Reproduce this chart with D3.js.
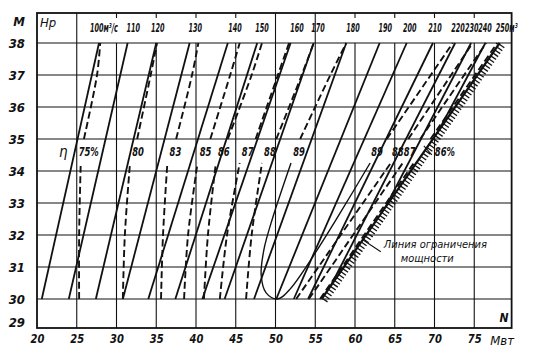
<!DOCTYPE html>
<html>
<head>
<meta charset="utf-8">
<script src="https://cdn.jsdelivr.net/npm/d3@7"></script>
<style>
  body { margin: 0; background: #fff; }
  text { font-family: "Liberation Sans Narrow", "DejaVu Sans Condensed", sans-serif; font-style: italic; fill: #111; }
</style>
</head>
<body>
<div id="chart"></div>
<script>
// Мощность N, МВт (ось X) и напор H, м (ось Y)
const powerTicks = [20, 25, 30, 35, 40, 45, 50, 55, 60, 65, 70, 75];
const headTicks = [29, 30, 31, 32, 33, 34, 35, 36, 37, 38];

// Линии расхода Q: мощность при H=30 и при H=38
const dischargeValues = [100, 110, 120, 130, 140, 150, 160, 170, 180, 190, 200, 210, 220, 230, 240, 250];
const dischargeAt30 = [20.6, 24.0, 27.4, 30.8, 34.0, 37.4, 40.8, 43.6, 47.3, 50.1, 52.3, 54.1, 56.1, 57.8, 59.2, 60.6];
const dischargeAt38 = [27.8, 31.4, 35.0, 39.2, 44.0, 47.7, 51.9, 54.8, 58.9, 63.1, 66.5, 69.8, 72.6, 74.6, 76.4, 78.6];
// где стоят подписи расходов над сеткой (МВт)
const dischargeLabelAt = [27.55, 32.1, 35.2, 39.9, 44.9, 48.3, 52.7, 55.35, 59.75, 63.8, 66.9, 70.05, 72.95, 74.7, 76.35, 78.6];

// Линия ограничения мощности
const limitLine = [[55.8, 30], [78.2, 38]];

// Линии КПД, левые ветви (нижняя и верхняя части, разрыв под подписью)
const effLeftLabels = ["75%", "80", "83", "85", "86", "87", "88", "89"];
const effLeftLower = [
  [[25.3, 30], [25.3, 32], [25.5, 34.25]],
  [[30.8, 30], [31.05, 32], [31.7, 34.25]],
  [[35.6, 30], [35.85, 32], [36.4, 34.25]],
  [[38.5, 30], [39.0, 32], [40.2, 34.25]],
  [[41.0, 30], [41.5, 32], [42.5, 34.25]],
  [[43.0, 30], [43.9, 32], [45.5, 34.25]],
  [[46.3, 30], [47.0, 32], [48.3, 34.25]],
  [[51.95, 34.25], [49.6, 32.5], [48.55, 31.55], [48.2, 30.75], [48.8, 30.2], [50.2, 30], [51.8, 30.3]]
];
const effLeftUpper = [
  [[25.9, 35], [27.55, 37], [27.95, 38]],
  [[32.6, 35], [34.3, 37], [35.1, 38]],
  [[37.5, 35], [39.5, 37], [40.3, 38]],
  [[41.8, 35], [44.3, 37], [45.5, 38]],
  [[44.0, 35], [47.0, 37], [48.3, 38]],
  [[47.5, 35], [50.3, 37], [51.7, 38]],
  [[50.1, 35], [53.3, 37], [54.8, 38]],
  [[53.1, 35], [56.9, 37], [58.9, 38]]
];

// Линии КПД, правые ветви
const effRightLabels = ["89", "88", "87", "86%"];
const effRightLower = [
  [[51.8, 30.3], [61.9, 34.25]],
  [[52.6, 30], [64.5, 34.25]],
  [[54.2, 30], [66.0, 34.25]],
  [[55.6, 30], [67.4, 34.25]]
];
const effRightUpper = [
  [[64.0, 35], [72.3, 38]],
  [[66.7, 35], [74.8, 38]],
  [[68.2, 35], [76.5, 38]],
  [[69.5, 35], [77.9, 38]]
];

const labelHead = 34.6;

const width = 536, height = 354;
const x = d3.scaleLinear().domain([20, 80]).range([37, 514]);
const y = d3.scaleLinear().domain([29, 30, 38]).range([328, 299, 43]);
const frameTop = 13;
const frameRight = x(79.7);
const ink = "#111";

const svg = d3.select("#chart").append("svg")
  .attr("width", width)
  .attr("height", height)
  .attr("viewBox", [0, 0, width, height]);

// сжатый наклонный шрифт как на чертеже
const squeeze = (px, py, k) => `translate(${px},${py}) scale(${k},1)`;

// Область слева от линии ограничения
const limPx = limitLine.map(d => [x(d[0]), y(d[1])]);
svg.append("clipPath").attr("id", "clipLimit")
  .append("polygon")
  .attr("points", [[0, y(38) - 2], [limPx[1][0], y(38) - 2], [limPx[1][0], limPx[1][1]], [limPx[0][0], limPx[0][1]], [limPx[0][0], y(30) + 2], [0, y(30) + 2]].join(" "));

// Сетка
const grid = svg.append("g").attr("stroke", ink).attr("stroke-width", 1.1);
grid.selectAll(".v").data(powerTicks.filter(d => d > 20)).join("line")
  .attr("x1", d => x(d)).attr("x2", d => x(d))
  .attr("y1", y(29)).attr("y2", d => (d === 25 || d === 50 || d === 55) ? frameTop : y(38));
grid.selectAll(".h").data(headTicks.filter(d => d > 29)).join("line")
  .attr("x1", x(20)).attr("x2", frameRight)
  .attr("y1", d => y(d)).attr("y2", d => y(d));
// штрихи на верхней рамке
grid.selectAll(".t").data(powerTicks.filter(d => d > 25 && d !== 50 && d !== 55)).join("line")
  .attr("x1", d => x(d)).attr("x2", d => x(d))
  .attr("y1", frameTop).attr("y2", frameTop + 5);

// Рамка
svg.append("rect")
  .attr("x", x(20)).attr("y", frameTop)
  .attr("width", frameRight - x(20)).attr("height", y(29) - frameTop)
  .attr("fill", "none").attr("stroke", ink).attr("stroke-width", 1.8);

const line = d3.line().x(d => x(d[0])).y(d => y(d[1]));
const curve = d3.line().x(d => x(d[0])).y(d => y(d[1])).curve(d3.curveCatmullRom.alpha(0.5));

const marks = svg.append("g").attr("clip-path", "url(#clipLimit)").attr("fill", "none");

// Линии расхода (сплошные)
marks.append("g").selectAll("path")
  .data(dischargeValues.map((q, i) => [[dischargeAt30[i], 30], [dischargeAt38[i], 38]]))
  .join("path")
  .attr("d", line)
  .attr("stroke", ink).attr("stroke-width", 1.8);

// Линии КПД (штриховые), нижняя петля 89% сплошная
const dashed = marks.append("g")
  .attr("stroke", ink).attr("stroke-width", 1.9)
  .attr("stroke-dasharray", "7,3.5");
const last = effLeftLower.length - 1;
dashed.selectAll(".ll").data(effLeftLower.slice(0, last).concat(effLeftUpper)).join("path").attr("d", curve);
dashed.selectAll(".rr").data(effRightLower.slice(1).concat(effRightUpper)).join("path").attr("d", line);
marks.append("path").datum(effLeftLower[last].concat(effRightLower[0].slice(1)))
  .attr("d", curve).attr("stroke", ink).attr("stroke-width", 1.4);

// Линия ограничения мощности со штриховкой
svg.append("path").datum(limitLine).attr("d", line)
  .attr("stroke", ink).attr("stroke-width", 2.2).attr("fill", "none");
const len = Math.hypot(limPx[1][0] - limPx[0][0], limPx[1][1] - limPx[0][1]);
const ux = (limPx[1][0] - limPx[0][0]) / len, uy = (limPx[1][1] - limPx[0][1]) / len;
svg.append("g").attr("stroke", ink).attr("stroke-width", 1.3)
  .selectAll("line").data(d3.range(1, len, 3.6)).join("line")
  .attr("x1", s => limPx[0][0] + ux * s)
  .attr("y1", s => limPx[0][1] + uy * s)
  .attr("x2", s => limPx[0][0] + ux * s - uy * 6.5)
  .attr("y2", s => limPx[0][1] + uy * s + ux * 6.5);

// Оси
svg.append("g")
  .attr("transform", `translate(0,${y(29)})`)
  .call(d3.axisBottom(x).tickValues(powerTicks).tickSize(0).tickPadding(6))
  .call(g => g.select(".domain").remove())
  .call(g => g.selectAll("text").attr("font-size", 13).attr("font-weight", "bold").attr("font-family", null)
    .attr("transform", "scale(0.85,1)"));

svg.append("g")
  .attr("transform", `translate(${x(20)},0)`)
  .call(d3.axisLeft(y).tickValues(headTicks).tickSize(0).tickPadding(12))
  .call(g => g.select(".domain").remove())
  .call(g => g.selectAll("text").attr("font-size", 13).attr("font-weight", "bold").attr("font-family", null)
    .attr("dy", d => d === 29 ? "-0.1em" : "0.32em"));

svg.append("text").attr("x", 19).attr("y", 21).attr("dy", "0.35em")
  .attr("text-anchor", "middle").attr("font-size", 13).attr("font-weight", "bold").text("М");
svg.append("text").attr("x", 40).attr("y", 22).attr("dy", "0.35em")
  .attr("font-size", 13).text("Нр");
svg.append("text").attr("x", x(79.3)).attr("y", y(29.2))
  .attr("text-anchor", "end").attr("font-size", 12).attr("font-weight", "bold").text("N");
svg.append("text").attr("x", x(77)).attr("y", 340).attr("dy", "0.35em")
  .attr("font-size", 13).text("Мвт");

// Подписи расходов
const lastQ = dischargeValues.length - 1;
svg.append("g").attr("font-size", 12).attr("font-weight", "bold")
  .selectAll("text").data(dischargeValues).join("text")
  .attr("transform", (q, i) => squeeze(x(dischargeLabelAt[i]) + ((i === 0 || i === lastQ) ? -7 : 0), 28, 0.6))
  .attr("dy", "0.35em")
  .attr("text-anchor", (q, i) => (i === 0 || i === lastQ) ? "start" : "middle")
  .text((q, i) => i === 0 ? q + "м³/с" : i === lastQ ? q + "м³" : q);

// Подписи КПД
svg.append("text").attr("x", x(23.3)).attr("y", y(labelHead)).attr("dy", "0.35em")
  .attr("text-anchor", "middle").attr("font-size", 15).text("η");
svg.append("g").attr("font-size", 12.5).attr("font-weight", "bold")
  .selectAll("text").data(effLeftLabels).join("text")
  .attr("transform", (t, i) => squeeze(x(d3.greatest(effLeftLower[i], d => d[1])[0]) + 8, y(labelHead), 0.75))
  .attr("dy", "0.35em")
  .attr("text-anchor", "middle")
  .text(t => t);
svg.append("g").attr("font-size", 12.5).attr("font-weight", "bold")
  .selectAll("text").data(effRightLabels).join("text")
  .attr("transform", (t, i) => squeeze(x(effRightLower[i][1][0]) + (i === effRightLabels.length - 1 ? 21 : 7), y(labelHead), 0.75))
  .attr("dy", "0.35em")
  .attr("text-anchor", (t, i) => i === effRightLabels.length - 1 ? "start" : "middle")
  .text(t => t);
const r86 = effRightLower[effRightLower.length - 1][1];
svg.append("line")
  .attr("x1", x(r86[0]) + 10).attr("y1", y(labelHead) - 6)
  .attr("x2", x(r86[0]) + 18).attr("y2", y(labelHead) + 3)
  .attr("stroke", ink).attr("stroke-width", 1.1);

// Подпись линии ограничения
const leadH = 31.85;
const leadN = limitLine[0][0] + (limitLine[1][0] - limitLine[0][0]) * (leadH - 30) / 8;
svg.append("line")
  .attr("x1", x(leadN)).attr("y1", y(leadH))
  .attr("x2", x(leadN) + 18).attr("y2", y(leadH) + 12)
  .attr("stroke", ink).attr("stroke-width", 1.1);
svg.append("text").attr("x", x(leadN) + 21).attr("y", y(leadH) + 8)
  .attr("font-size", 11).text("Линия ограничения");
svg.append("text").attr("x", x(leadN) + 38).attr("y", y(leadH) + 22)
  .attr("font-size", 11).text("мощности");
</script>
</body>
</html>
